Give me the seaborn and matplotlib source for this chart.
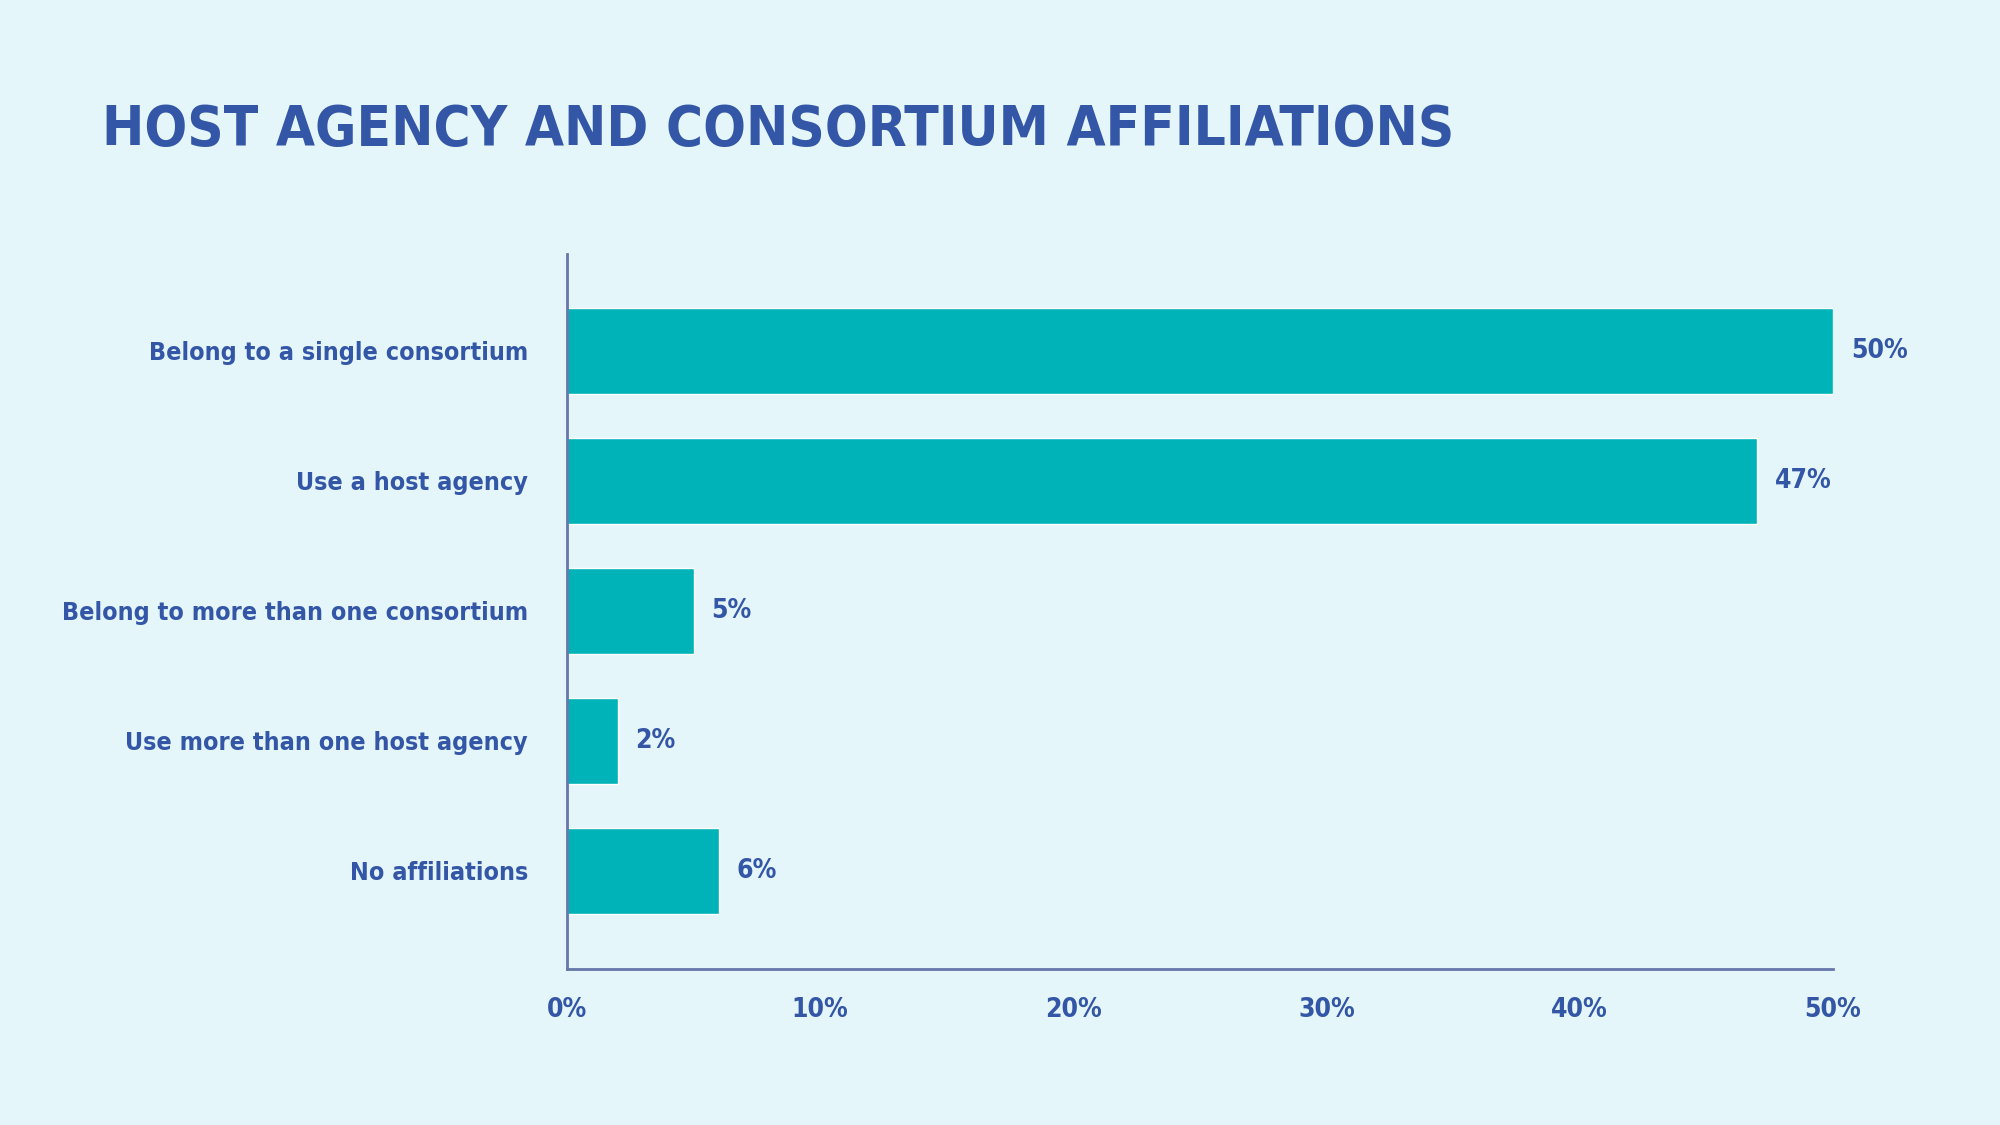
import matplotlib
matplotlib.use("Agg")
import matplotlib.pyplot as plt
from matplotlib import font_manager
import seaborn as sns
import pandas as pd

categories = ["Belong to a single consortium", "Use a host agency",
              "Belong to more than one consortium", "Use more than one host agency",
              "No affiliations"]
values = [50, 47, 5, 2, 6]
xticks = [0, 10, 20, 30, 40, 50]
xtick_labels = ["0%", "10%", "20%", "30%", "40%", "50%"]
title = "HOST AGENCY AND CONSORTIUM AFFILIATIONS"

BG = "#E4F6F9"
BAR = "#00B3B8"
TXT = "#3356A6"
AX = "#6677AA"

sns.set_theme(style="white")
names = {f.name for f in font_manager.fontManager.ttflist}
if "Liberation Sans Narrow" in names:
    fam = ["Liberation Sans Narrow", "DejaVu Sans"]
    stretch = "normal"
else:
    fam = ["DejaVu Sans"]
    stretch = "condensed"
plt.rcParams["font.family"] = fam

df = pd.DataFrame({"cat": categories, "val": values})

fig = plt.figure(figsize=(20, 11.25), dpi=100, facecolor=BG)
ax = fig.add_axes([567 / 2000, 1 - 969 / 1125, (1833 - 567) / 2000, (969 - 254) / 1125])
ax.set_facecolor(BG)
sns.barplot(data=df, x="val", y="cat", color=BAR, width=0.655, ax=ax,
            saturation=1, orient="h")
ax.set_xlim(0, 50)
ax.set_ylim(4.754, -0.746)
ax.set_xlabel("")
ax.set_ylabel("")
for s in ["top", "right"]:
    ax.spines[s].set_visible(False)
for s in ["left", "bottom"]:
    ax.spines[s].set_color(AX)
    ax.spines[s].set_linewidth(2)
ax.set_xticks(xticks)
ax.set_xticklabels(xtick_labels)
ax.tick_params(axis="both", length=0)
ax.tick_params(axis="y", pad=28)
ax.tick_params(axis="x", pad=20)
for lab in ax.get_yticklabels():
    lab.set_fontsize(18)
for lab in ax.get_xticklabels():
    lab.set_fontsize(19)
for lab in ax.get_yticklabels() + ax.get_xticklabels():
    lab.set_fontweight("bold")
    lab.set_color(TXT)
    lab.set_fontstretch(stretch)

for i, v in enumerate(values):
    ax.text(v + 0.7, i, f"{v}%", va="center", ha="left", fontsize=19,
            fontweight="bold", color=TXT, fontstretch=stretch)

fig.text(102 / 2000, 1 - 130 / 1125, title, fontsize=40.5, fontweight="bold",
         color=TXT, va="center", ha="left", fontstretch=stretch)

fig.savefig("out.png", dpi=100, facecolor=BG)
